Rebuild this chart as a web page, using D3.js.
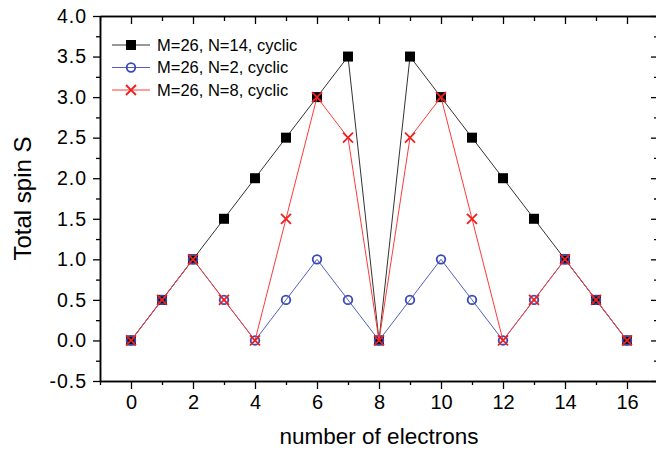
<!DOCTYPE html>
<html><head><meta charset="utf-8">
<script src="https://cdn.jsdelivr.net/npm/d3@7"></script>
<style>
body{margin:0;background:#fff;}
svg{display:block;font-family:"Liberation Sans",Arial,sans-serif;}
</style></head>
<body><svg id="c" width="656" height="450"></svg>
<script>
const electrons = [0,1,2,3,4,5,6,7,8,9,10,11,12,13,14,15,16];
const spinN14 = [0,0.5,1,1.5,2,2.5,3,3.5,0,3.5,3,2.5,2,1.5,1,0.5,0];
const spinN2  = [0,0.5,1,0.5,0,0.5,1,0.5,0,0.5,1,0.5,0,0.5,1,0.5,0];
const spinN8  = [0,0.5,1,0.5,0,1.5,3,2.5,0,2.5,3,1.5,0,0.5,1,0.5,0];
const seriesNames = ["M=26, N=14, cyclic","M=26, N=2, cyclic","M=26, N=8, cyclic"];
const xTicks = [0,2,4,6,8,10,12,14,16];
const xMinor = [-1,1,3,5,7,9,11,13,15,17];
const yTicks = [-0.5,0,0.5,1,1.5,2,2.5,3,3.5,4];
const yMinor = [-0.25,0.25,0.75,1.25,1.75,2.25,2.75,3.25,3.75];

const svg = d3.select("#c");
const L=100, R=658, T=16, B=381;
const x = d3.scaleLinear().domain([-1,17]).range([L,R]);
const y = d3.scaleLinear().domain([-0.5,4]).range([B,T]);

function styleAxis(g){
  g.select(".domain").attr("stroke","#000").attr("stroke-width",1.5);
  g.selectAll(".tick line").attr("stroke","#000").attr("stroke-width",1.3);
}
// bottom
svg.append("g").attr("transform",`translate(0,${B})`)
  .call(d3.axisBottom(x).tickValues(xTicks).tickSize(8).tickSizeOuter(0).tickPadding(6).tickFormat(d3.format("d")))
  .call(styleAxis)
  .call(g=>g.selectAll("text").attr("font-size",20).attr("fill","#000").attr("font-family","Liberation Sans, Arial, sans-serif"));
svg.append("g").attr("transform",`translate(0,${B})`)
  .call(d3.axisBottom(x).tickValues(xMinor).tickSize(4).tickSizeOuter(0).tickFormat(""))
  .call(styleAxis);
// top
svg.append("g").attr("transform",`translate(0,${T})`)
  .call(d3.axisBottom(x).tickValues(xTicks).tickSize(8).tickSizeOuter(0).tickFormat(""))
  .call(styleAxis);
svg.append("g").attr("transform",`translate(0,${T})`)
  .call(d3.axisBottom(x).tickValues(xMinor).tickSize(5).tickSizeOuter(0).tickFormat(""))
  .call(styleAxis);
// left
svg.append("g").attr("transform",`translate(${L},0)`)
  .call(d3.axisLeft(y).tickValues(yTicks).tickSize(7).tickSizeOuter(0).tickPadding(6)
        .tickFormat(d=>d3.format(".1f")(d).replace("\u2212","-")))
  .call(styleAxis)
  .call(g=>g.selectAll("text").attr("font-size",19.5).attr("fill","#000").attr("letter-spacing",1).attr("font-family","Liberation Sans, Arial, sans-serif"));
svg.append("g").attr("transform",`translate(${L},0)`)
  .call(d3.axisLeft(y).tickValues(yMinor).tickSize(4).tickSizeOuter(0).tickFormat(""))
  .call(styleAxis);
// right
svg.append("g").attr("transform",`translate(${R},0)`)
  .call(d3.axisLeft(y).tickValues(yTicks).tickSize(7).tickSizeOuter(0).tickFormat(""))
  .call(styleAxis);
svg.append("g").attr("transform",`translate(${R},0)`)
  .call(d3.axisLeft(y).tickValues(yMinor).tickSize(4).tickSizeOuter(0).tickFormat(""))
  .call(styleAxis);

// titles
svg.append("text").attr("x",(L+R)/2).attr("y",444).attr("text-anchor","middle")
  .attr("font-size",22.5).attr("fill","#000").text("number of electrons");
svg.append("text").attr("transform",`translate(31,${(T+B)/2}) rotate(-90)`).attr("text-anchor","middle")
  .attr("font-size",24).attr("fill","#000").text("Total spin S");

const series = [
  {name:seriesNames[0], vals:spinN14, color:"#333", mcolor:"#000", marker:"square"},
  {name:seriesNames[1], vals:spinN2, color:"#5060c0", mcolor:"#3848b8", marker:"circle"},
  {name:seriesNames[2], vals:spinN8, color:"#ff3a3a", mcolor:"#f02020", marker:"cross"}
];
const line = d3.line().x((d,i)=>x(electrons[i])).y(d=>y(d));

function drawMarker(g, s, cx, cy){
  if(s.marker==="square"){
    g.append("rect").attr("x",cx-5).attr("y",cy-5).attr("width",10).attr("height",10).attr("fill",s.mcolor);
  } else if(s.marker==="circle"){
    g.append("circle").attr("cx",cx).attr("cy",cy).attr("r",4.3).attr("fill","none").attr("stroke",s.mcolor).attr("stroke-width",1.8);
  } else {
    const r=5;
    g.append("path").attr("d",`M${cx-r},${cy-r}L${cx+r},${cy+r}M${cx-r},${cy+r}L${cx+r},${cy-r}`)
      .attr("stroke",s.mcolor).attr("stroke-width",1.8).attr("fill","none");
  }
}

series.forEach(s=>{
  svg.append("path").datum(s.vals).attr("d",line).attr("fill","none").attr("stroke",s.color).attr("stroke-width",1);
  const g = svg.append("g");
  s.vals.forEach((v,i)=>drawMarker(g,s,x(electrons[i]),y(v)));
});

// legend
const lg = svg.append("g");
series.forEach((s,i)=>{
  const yy = 45 + i*22.5;
  lg.append("line").attr("x1",112).attr("x2",150).attr("y1",yy).attr("y2",yy).attr("stroke",s.color).attr("stroke-width",1);
  drawMarker(lg,s,131,yy);
  lg.append("text").attr("x",157).attr("y",yy).attr("dy","0.36em").attr("font-size",16.5).attr("fill","#000").text(s.name);
});
</script></body></html>
